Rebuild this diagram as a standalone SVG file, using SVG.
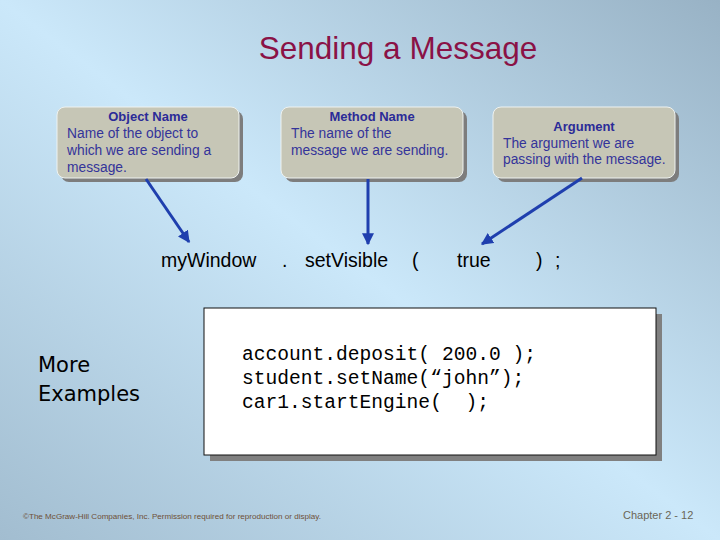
<svg xmlns="http://www.w3.org/2000/svg" width="720" height="540" viewBox="0 0 720 540">
<defs>
<linearGradient id="bg" x1="0" y1="1" x2="1" y2="0">
<stop offset="0" stop-color="#a2bdd0"/>
<stop offset="0.5" stop-color="#cbe8fa"/>
<stop offset="1" stop-color="#98b2c5"/>
</linearGradient>
<marker id="ah" viewBox="0 0 10 10" refX="9" refY="5" markerWidth="4" markerHeight="4" orient="auto" markerUnits="strokeWidth">
<path d="M0,0 L10,5 L0,10 z" fill="#1f3fae"/>
</marker>
<style>
.box{fill:#c6c6b6;stroke:#eef2f0;stroke-width:1}
.shadow{fill:#7d7d7d}
.bt{font-family:"Liberation Sans",Arial,sans-serif;font-size:13px;font-weight:bold;fill:#2b2b98;text-anchor:middle}
.bx{font-family:"Liberation Sans",Arial,sans-serif;font-size:13.8px;fill:#34349a}
.conn{stroke:#1f3fae;stroke-width:3;fill:none;marker-end:url(#ah)}
.st{font-family:"Liberation Sans",Arial,sans-serif;font-size:19.5px;fill:#000}
.code{font-family:"Liberation Mono","Courier New",monospace;font-size:19.6px;fill:#000;white-space:pre}
</style>
</defs>
<rect width="720" height="540" fill="url(#bg)"/>
<text x="398" y="59" font-family="Liberation Sans, Arial, sans-serif" font-size="31.5" fill="#8a1246" text-anchor="middle">Sending a Message</text>

<g id="object-name">
<rect class="shadow" x="61" y="111" width="182" height="71" rx="8"/>
<rect class="box" x="57" y="107" width="182" height="71" rx="8"/>
<text class="bt" x="148" y="121">Object Name</text>
<text class="bx" x="67" y="138">Name of the object to</text>
<text class="bx" x="67" y="155">which we are sending a</text>
<text class="bx" x="67" y="172">message.</text>
</g>

<g id="method-name">
<rect class="shadow" x="285" y="111" width="182" height="71" rx="8"/>
<rect class="box" x="281" y="107" width="182" height="71" rx="8"/>
<text class="bt" x="372" y="121">Method Name</text>
<text class="bx" x="291" y="138">The name of the</text>
<text class="bx" x="291" y="155">message we are sending.</text>
</g>

<g id="argument">
<rect class="shadow" x="497" y="111" width="182" height="71" rx="8"/>
<rect class="box" x="493" y="107" width="182" height="71" rx="8"/>
<text class="bt" x="584" y="131">Argument</text>
<text class="bx" x="503" y="148">The argument we are</text>
<text class="bx" x="503" y="164">passing with the message.</text>
</g>

<g id="statement">
<text class="st" x="161" y="267">myWindow</text>
<text class="st" x="282" y="267">.</text>
<text class="st" x="305" y="267">setVisible</text>
<text class="st" x="412" y="267">(</text>
<text class="st" x="457" y="267">true</text>
<text class="st" x="536" y="267">)</text>
<text class="st" x="555" y="267">;</text>
</g>

<g id="connectors">
<line class="conn" x1="146" y1="179" x2="189" y2="242"/>
<line class="conn" x1="368" y1="179" x2="368" y2="244"/>
<line class="conn" x1="582" y1="178" x2="482" y2="244"/>
</g>

<g id="more-examples">
<text x="38" y="372" font-family="DejaVu Sans, sans-serif" font-size="21" fill="#000">More</text>
<text x="38" y="401" font-family="DejaVu Sans, sans-serif" font-size="21" fill="#000">Examples</text>
</g>

<g id="code-box">
<rect x="210" y="314" width="452" height="147" fill="#808080"/>
<rect x="204" y="308" width="452" height="147" fill="#ffffff" stroke="#111" stroke-width="1"/>
<text class="code" x="242" y="360" xml:space="preserve">account.deposit( 200.0 );</text>
<text class="code" x="242" y="384" xml:space="preserve">student.setName(“john”);</text>
<text class="code" x="242" y="408" xml:space="preserve">car1.startEngine(  );</text>
</g>

<text x="23" y="519" font-family="Liberation Sans, Arial, sans-serif" font-size="7.5" fill="#6e5038" textLength="298" lengthAdjust="spacingAndGlyphs">©The McGraw-Hill Companies, Inc. Permission required for reproduction or display.</text>
<text x="623" y="519" font-family="Liberation Sans, Arial, sans-serif" font-size="11" fill="#6a6658">Chapter 2 - 12</text>
</svg>
